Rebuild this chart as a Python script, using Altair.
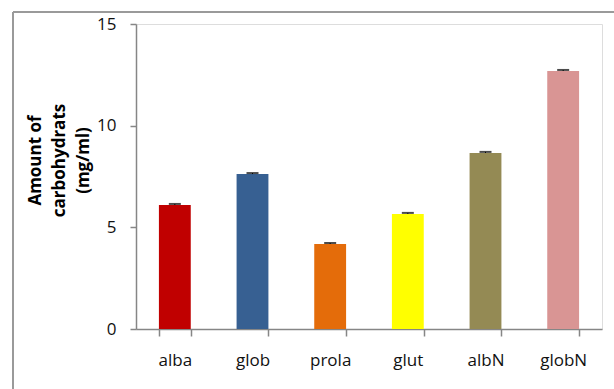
import altair as alt
import pandas as pd

# Carbohydrate content per protein fraction
fractions = ["alba", "glob", "prola", "glut", "albN", "globN"]
amounts = [6.10, 7.62, 4.18, 5.66, 8.66, 12.69]
errors = [0.05, 0.05, 0.05, 0.05, 0.05, 0.05]
bar_colors = ["#C00000", "#376092", "#E46C0A", "#FFFF00", "#948A54", "#D99594"]

df = pd.DataFrame({"fraction": fractions, "amount": amounts, "err": errors})
df["hi"] = df["amount"] + df["err"]

FONT = "Open Sans"
AXIS_GREY = "#868686"
TEXT = "#111111"

x_enc = alt.X(
    "fraction:N",
    sort=fractions,
    scale=alt.Scale(paddingInner=0.59, paddingOuter=0.295),
    axis=alt.Axis(
        title=None,
        labelAngle=0,
        labelFontSize=17,
        labelPadding=16,
        labelColor=TEXT,
        labelFont=FONT,
        tickBand="extent",
        tickSize=7,
        tickColor=AXIS_GREY,
        tickWidth=1.5,
        domainColor=AXIS_GREY,
        domainWidth=1.5,
    ),
)

y_scale = alt.Scale(domain=[0, 15], nice=False)

bars = alt.Chart(df).mark_bar().encode(
    x=x_enc,
    y=alt.Y(
        "amount:Q",
        scale=y_scale,
        axis=alt.Axis(
            values=[0, 5, 10, 15],
            title=["Amount of", "carbohydrats", "(mg/ml)"],
            titleFont=FONT,
            titleFontSize=17,
            titleFontWeight="bold",
            titleColor="#000000",
            titleAngle=-90,
            titleX=-101,
            titleY=136,
            titleBaseline="middle",
            titleLineHeight=24,
            labelFontSize=17,
            labelFont=FONT,
            labelColor=TEXT,
            labelPadding=14,
            tickSize=6,
            tickColor=AXIS_GREY,
            tickWidth=1.5,
            domainColor=AXIS_GREY,
            domainWidth=1.5,
            grid=False,
        ),
    ),
    color=alt.Color(
        "fraction:N",
        sort=fractions,
        scale=alt.Scale(domain=fractions, range=bar_colors),
        legend=None,
    ),
)

# Upper error bars (whisker + cap)
whisker = alt.Chart(df).mark_rule(color="black", strokeWidth=1).encode(
    x=alt.X("fraction:N", sort=fractions),
    y="amount:Q",
    y2="hi:Q",
)
cap_hi = alt.Chart(df).mark_tick(color="black", thickness=2, size=12).encode(
    x=alt.X("fraction:N", sort=fractions),
    y="hi:Q",
)

# Grey frame around the whole figure
frame_top = alt.Chart(df).mark_rule(color="#9a9a9a", strokeWidth=1.5).encode(
    x=alt.value(-123), x2=alt.value(600), y=alt.value(-12)
)
frame_left = alt.Chart(df).mark_rule(color="#9a9a9a", strokeWidth=1.5).encode(
    x=alt.value(-123), y=alt.value(-12), y2=alt.value(400)
)

chart = (
    alt.layer(bars, whisker, cap_hi, frame_top, frame_left)
    .properties(
        width=466,
        height=305,
        autosize=alt.AutoSizeParams(type="none"),
        padding={"left": 136, "top": 24, "right": 12, "bottom": 60},
    )
    .configure_view(strokeWidth=0)
    .configure(background="white")
)

chart.save("out.html", embed_options={"renderer": "svg", "actions": False})
